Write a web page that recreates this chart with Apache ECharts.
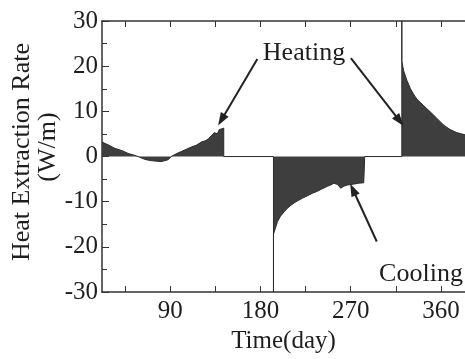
<!DOCTYPE html>
<html>
<head>
<meta charset="utf-8">
<script src="https://cdn.jsdelivr.net/npm/echarts@6/dist/echarts.min.js"></script>
<style>
html,body{margin:0;padding:0;background:#fff;}
#chart{width:465px;height:359px;}
</style>
</head>
<body>
<div id="chart"></div>
<script>
// Early heating (spring) period
const heat1Days = [22, 28, 35, 42, 48, 54, 58, 62, 66, 71, 75, 81, 85, 88, 91, 96, 101, 106, 111, 116, 121, 125, 128, 131, 134, 137, 139, 141, 143.4];
const heat1Vals = [3.2, 2.6, 1.8, 1.3, 0.7, 0.3, 0, -0.4, -0.7, -0.9, -1.0, -1.1, -0.9, -0.7, 0, 0.6, 1.1, 1.6, 2.1, 2.5, 3.2, 3.5, 3.9, 4.6, 5.3, 5.0, 6.0, 6.1, 6.3];
// Cooling period
const coolDays = [193, 193, 193.7, 197, 200, 203.7, 207, 210.3, 214, 217, 222, 226.8, 232, 236.7, 241, 246.6, 250, 253.3, 257, 260, 263, 266.5, 270, 273, 278, 283, 284];
const coolVals = [-30, -17.2, -17.2, -14.4, -13.2, -12.2, -11.4, -10.8, -10.2, -9.8, -9.2, -8.7, -8.1, -7.7, -7.2, -6.6, -6.3, -5.9, -6.2, -7.0, -6.6, -6.3, -6.2, -6.1, -5.9, -5.8, -5.8];
// Late heating (winter) period
const heat2Days = [321, 321, 322.8, 326, 329.4, 333, 336, 342.6, 349.3, 355.8, 362.5, 369, 375.7, 384];
const heat2Vals = [30, 21.1, 19.0, 16.9, 15.1, 13.7, 12.7, 11.3, 9.9, 8.5, 7.0, 6.0, 5.3, 4.8];
// Axis ticks
const xLabelDays = [90, 180, 270, 360];
const xTickDays = [45, 90, 135, 180, 225, 270, 315, 360];

function pairs(ds, vs) { return ds.map((d, i) => [d, vs[i]]); }
const seriesData = []
  .concat(pairs(heat1Days, heat1Vals))
  .concat([[143.4, 0], [193, 0]])
  .concat(pairs(coolDays, coolVals))
  .concat([[284, 0], [321, 0]])
  .concat(pairs(heat2Days, heat2Vals));

const FONT = 'Liberation Serif';
const TXT = '#1e1e1e';
const AX = '#333';

const chart = echarts.init(document.getElementById('chart'), null, {renderer: 'canvas'});
chart.setOption({
  animation: false,
  backgroundColor: '#fff',
  grid: {left: 102, right: -2, top: 21, bottom: 53, containLabel: false},
  xAxis: [{
    type: 'value', min: 22, max: 384, position: 'bottom',
    name: 'Time(day)', nameLocation: 'middle', nameGap: 28,
    nameTextStyle: {fontFamily: FONT, fontSize: 25, color: TXT},
    axisLine: {onZero: false, lineStyle: {color: AX, width: 1.5}},
    axisTick: {inside: true, length: 6, customValues: xTickDays, lineStyle: {color: AX, width: 1}},
    axisLabel: {customValues: xLabelDays, fontFamily: FONT, fontSize: 25, color: TXT, margin: 7},
    splitLine: {show: false}
  }, {
    type: 'value', min: 22, max: 384, position: 'top',
    axisLine: {onZero: false, lineStyle: {color: AX, width: 1.5}},
    axisTick: {inside: true, length: 6, customValues: xTickDays, lineStyle: {color: AX, width: 1}},
    axisLabel: {show: false},
    splitLine: {show: false}
  }],
  yAxis: {
    type: 'value', min: -30, max: 30, interval: 10,
    axisLine: {show: true, onZero: false, lineStyle: {color: AX, width: 1.5}},
    axisTick: {inside: true, length: 7, lineStyle: {color: AX, width: 1}},
    minorTick: {show: true, splitNumber: 2, length: 5, lineStyle: {color: AX, width: 1}},
    axisLabel: {fontFamily: FONT, fontSize: 25, color: TXT, margin: 4},
    splitLine: {show: false}
  },
  series: [{
    type: 'line',
    data: seriesData,
    showSymbol: false,
    symbol: 'none',
    lineStyle: {color: '#2a2a2a', width: 1},
    areaStyle: {color: '#3e3e3e', opacity: 1, origin: 'auto'},
    markLine: {
      silent: true,
      symbol: ['none', 'triangle'],
      symbolSize: [9, 13],
      label: {show: false},
      lineStyle: {color: '#222', width: 2, type: 'solid'},
      data: [
        [{coord: [176.9, 21.6]}, {coord: [141.1, 8.1]}],
        [{coord: [270.2, 21.8]}, {coord: [318.8, 7.9]}],
        [{coord: [296, -18.8]}, {coord: [272.2, -7.3]}]
      ]
    }
  }],
  graphic: [
    {type: 'text', x: 304, y: 53, style: {text: 'Heating', font: '26px "Liberation Serif"', fill: TXT, align: 'center', verticalAlign: 'middle'}},
    {type: 'text', x: 421, y: 274, style: {text: 'Cooling', font: '26px "Liberation Serif"', fill: TXT, align: 'center', verticalAlign: 'middle'}},
    {type: 'text', x: 22, y: 152, rotation: Math.PI / 2, style: {text: 'Heat Extraction Rate', font: '26px "Liberation Serif"', fill: TXT, align: 'center', verticalAlign: 'middle'}},
    {type: 'text', x: 48, y: 147, rotation: Math.PI / 2, style: {text: '(W/m)', font: '26px "Liberation Serif"', fill: TXT, align: 'center', verticalAlign: 'middle'}}
  ]
});
</script>
</body>
</html>
